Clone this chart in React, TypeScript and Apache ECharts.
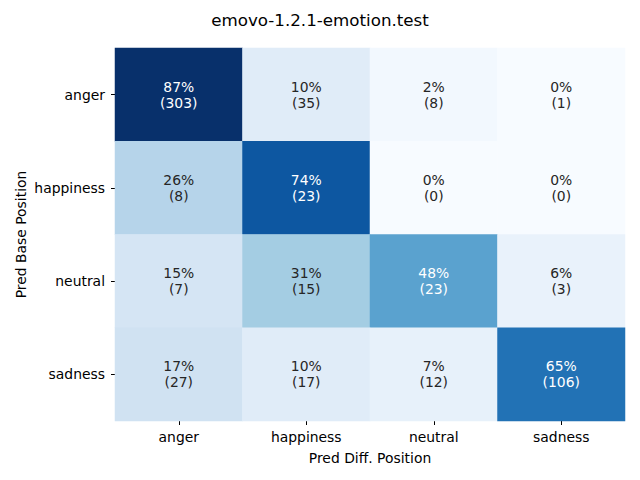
import React, { useEffect, useRef } from "react";
import * as echarts from "echarts";

const xCategories = ["anger", "happiness", "neutral", "sadness"];
const yCategories = ["anger", "happiness", "neutral", "sadness"];
// percentages by row (true label) then column (predicted)
const percentRows = [
  [87, 10, 2, 0],
  [26, 74, 0, 0],
  [15, 31, 48, 6],
  [17, 10, 7, 65],
];
const countRows = [
  [303, 35, 8, 1],
  [8, 23, 0, 0],
  [7, 15, 23, 3],
  [27, 17, 12, 106],
];
const bluesStops = ["#f7fbff", "#deebf7", "#c6dbef", "#9ecae1", "#6baed6", "#4292c6", "#2171b5", "#08519c", "#08306b"];
const FONT = "DejaVu Sans";

export default function App() {
  const ref = useRef<HTMLDivElement>(null);
  useEffect(() => {
    if (!ref.current) return;
    const chart = echarts.init(ref.current, null, { renderer: "svg" });
    const data: any[] = [];
    percentRows.forEach((row, yi) => {
      row.forEach((v, xi) => {
        data.push({
          value: [xi, yi, v, countRows[yi][xi]],
          label: { color: v >= 40 ? "#ffffff" : "#262626" },
        });
      });
    });
    chart.setOption({
      animation: false,
      title: {
        text: "emovo-1.2.1-emotion.test",
        left: "center",
        top: 6,
        textStyle: { fontFamily: FONT, fontSize: 16.7, fontWeight: "normal", color: "#000" },
      },
      grid: { left: 115, top: 48, width: 510, height: 373, containLabel: false },
      xAxis: {
        type: "category",
        data: xCategories,
        name: "Pred Diff. Position",
        nameLocation: "middle",
        nameGap: 30,
        nameTextStyle: { fontFamily: FONT, fontSize: 13.9, color: "#000" },
        axisLine: { show: false },
        axisTick: { show: true, alignWithLabel: true, length: 4, lineStyle: { color: "#000", width: 1 } },
        axisLabel: { fontFamily: FONT, fontSize: 13.9, color: "#000", margin: 9 },
        splitArea: { show: false },
      },
      yAxis: {
        type: "category",
        data: yCategories,
        inverse: true,
        name: "Pred Base Position",
        nameLocation: "middle",
        nameGap: 87,
        nameMoveOverlap: false,
        nameRotate: 90,
        nameTextStyle: { fontFamily: FONT, fontSize: 13.9, color: "#000" },
        axisLine: { show: false },
        axisTick: { show: true, alignWithLabel: true, length: 4, lineStyle: { color: "#000", width: 1 } },
        axisLabel: { fontFamily: FONT, fontSize: 13.9, color: "#000", margin: 10 },
        splitArea: { show: false },
      },
      visualMap: {
        show: false,
        min: 0,
        max: 87,
        dimension: 2,
        inRange: { color: bluesStops },
      },
      series: [
        {
          type: "heatmap",
          data,
          label: {
            show: true,
            fontFamily: FONT,
            fontSize: 13.9,
            lineHeight: 16,
            formatter: (p: any) => `${p.value[2]}%\n(${p.value[3]})`,
          },
          itemStyle: { borderWidth: 0 },
          emphasis: { disabled: true },
        },
      ],
    });
    return () => chart.dispose();
  }, []);
  return <div ref={ref} style={{ width: 640, height: 480, position: "absolute", left: 0, top: 0 }} />;
}
